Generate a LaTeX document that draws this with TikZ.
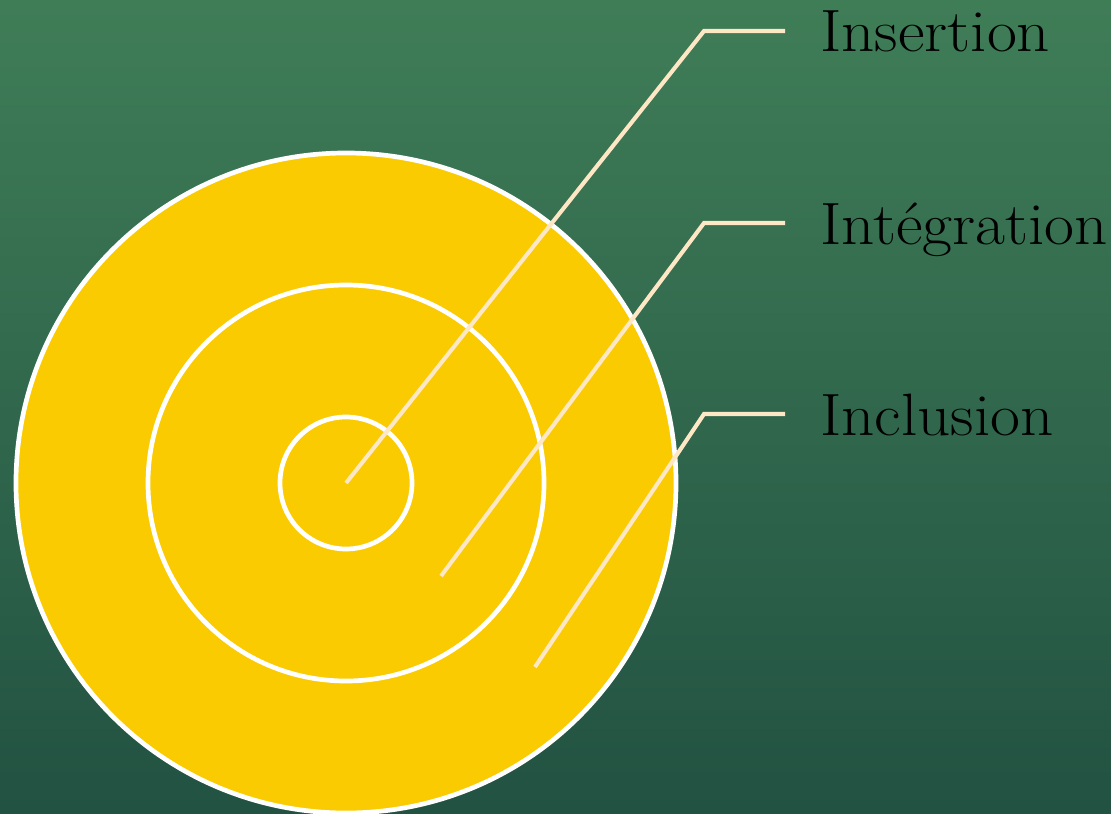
\documentclass[tikz,border=0pt]{standalone}
\usepackage{fontspec}
\setmainfont{Latin Modern Roman}[FakeStretch=1.09]
\definecolor{bgtop}{RGB}{63,125,87}
\definecolor{bgbottom}{RGB}{34,82,66}
\definecolor{targetyellow}{RGB}{250,203,0}
\definecolor{leadercream}{RGB}{253,231,197}
\tikzset{
  ring/.style={circle,draw=white,line width=4pt,inner sep=0pt,outer sep=0pt},
  leader/.style={draw=leadercream,line width=3.5pt},
  levellabel/.style={anchor=base west,inner sep=0pt,font=\fontsize{51}{60}\selectfont}
}
\begin{document}
\begin{tikzpicture}[x=0.03cm,y=-0.03cm]
  \shade[top color=bgtop,bottom color=bgbottom] (0,0) rectangle (1111,814);
  \useasboundingbox (0,0) rectangle (1111,814);

  \coordinate (c) at (346,483);
  \node[ring,fill=targetyellow,minimum size=19.8cm] (outer) at (c) {};
  \node[ring,minimum size=11.88cm] (middle) at (c) {};
  \node[ring,minimum size=3.96cm] (inner) at (c) {};

  \node[levellabel] (ins) at (820,52) {Insertion};
  \node[levellabel] (int) at (820,244) {Intégration};
  \node[levellabel] (inc) at (820,435) {Inclusion};

  \coordinate (ins-knee) at (704,31);
  \coordinate (ins-end) at (785,31);
  \coordinate (int-foot) at (441,576);
  \coordinate (int-knee) at (704,223);
  \coordinate (int-end) at (785,223);
  \coordinate (inc-foot) at (535,667);
  \coordinate (inc-knee) at (704,414);
  \coordinate (inc-end) at (785,414);

  \draw[leader] (c) -- (ins-knee) -- (ins-end);
  \draw[leader] (int-foot) -- (int-knee) -- (int-end);
  \draw[leader] (inc-foot) -- (inc-knee) -- (inc-end);
\end{tikzpicture}
\end{document}
